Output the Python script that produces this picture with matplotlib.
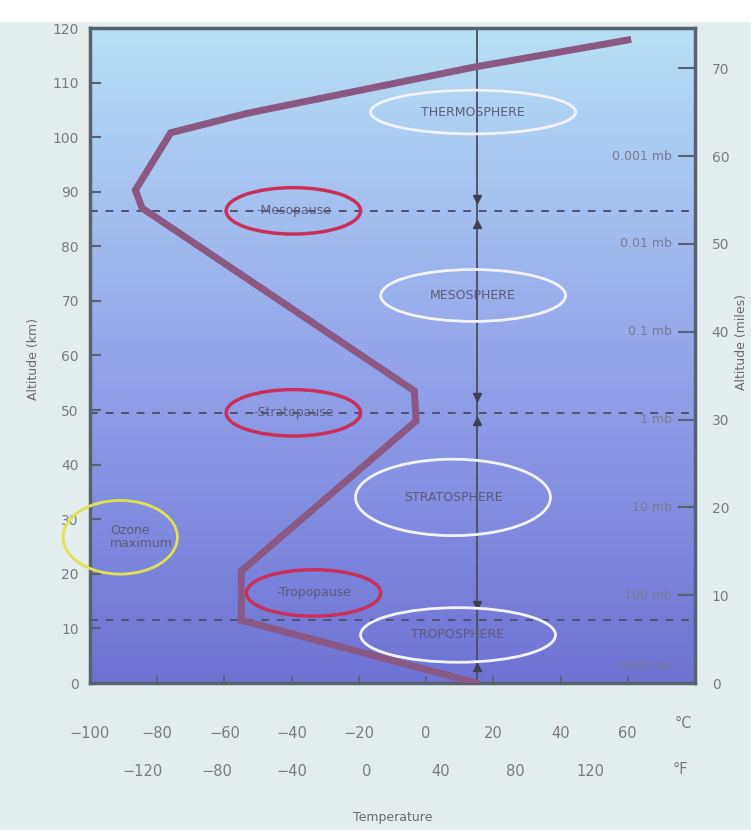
import numpy as np
import matplotlib
matplotlib.use("Agg")
import matplotlib.pyplot as plt
from matplotlib.patches import Ellipse

# temperature profile of the standard atmosphere
temp_c = [15, -55, -55, -3, -3.5, -84.5, -86.5, -76, -53, 14, 60]
alt_km = [0, 11.5, 20.5, 48, 53.5, 87, 90.3, 100.8, 104.4, 112.8, 117.8]

# layer boundaries (dashed lines)
pause_alt = [11.5, 49.5, 86.5]
pause_names = ["Tropopause", "Stratopause", "Mesopause"]
pause_label_xy = [(-33.5, 16.5), (-39.5, 49.5), (-39.5, 86.5)]

layer_names = ["TROPOSPHERE", "STRATOSPHERE", "MESOSPHERE", "THERMOSPHERE"]
layer_xy = [(9.5, 8.8), (8, 34), (14, 71), (14, 104.6)]
layer_wh = [(58, 10), (58, 14), (55, 9.5), (61, 8)]

pressure_labels = ["1000 mb", "100 mb", "10 mb", "1 mb", "0.1 mb", "0.01 mb", "0.001 mb"]
pressure_km = [3, 16.1, 32.2, 48.3, 64.4, 80.5, 96.5]

celsius_ticks = [-100, -80, -60, -40, -20, 0, 20, 40, 60]
fahrenheit_ticks = [-120, -80, -40, 0, 40, 80, 120]
km_ticks = list(range(0, 121, 10))
mile_ticks = list(range(0, 71, 10))

arrow_alt = [88.6, 84.0, 52.4, 48.0, 14.3, 3.0]
arrow_dir = ["v", "^", "v", "^", "v", "^"]

KM_PER_MI = 1.609

fig = plt.figure(figsize=(7.51, 8.30), dpi=100, facecolor="#e3eded")
fig.patches.append(plt.Rectangle((0, 0.975), 1, 0.025, transform=fig.transFigure,
                                 color="white", zorder=0))
ax = fig.add_axes([90 / 751, 147 / 830, 605 / 751, 655 / 830])
ax.set_xlim(-100, 80)
ax.set_ylim(0, 120)

# blue background gradient
top = np.array([0.72, 0.88, 0.96])
mid = np.array([0.58, 0.65, 0.92])
bot = np.array([0.43, 0.45, 0.83])
t = np.linspace(0, 1, 256)[:, None]
grad = np.where(t < 0.5, top + (mid - top) * (t / 0.5), mid + (bot - mid) * ((t - 0.5) / 0.5))
ax.imshow(grad[:, None, :], extent=[-100, 80, 0, 120], aspect="auto", zorder=0)

for a in pause_alt:
    ax.axhline(a, color="#4e5270", lw=1.4, ls=(0, (4, 4)), zorder=2)

ax.axvline(15, color="#4a4c60", lw=1.3, zorder=2)
for a, m in zip(arrow_alt, arrow_dir):
    ax.plot(15, a, marker=m, ms=6, color="#3e4050", zorder=3)

ax.plot(temp_c, alt_km, color="#8a5882", lw=5, solid_joinstyle="miter", zorder=4)

txt_col = "#5c5c78"
for name, (x, y) in zip(pause_names, pause_label_xy):
    ax.add_patch(Ellipse((x, y), 40, 8.5, fill=False, ec="#c8305a", lw=2.5, zorder=5))
    ax.text(x, y, "-" + name, ha="center", va="center", fontsize=9, color=txt_col, zorder=6)

for name, (x, y), (w, h) in zip(layer_names, layer_xy, layer_wh):
    ax.add_patch(Ellipse((x, y), w, h, fill=False, ec="#f2f4ff", lw=2, zorder=5))
    ax.text(x, y, name, ha="center", va="center", fontsize=9, color=txt_col, zorder=6)

ax.add_patch(Ellipse((-91, 26.7), 34, 13.5, fill=False, ec="#e2e24e", lw=2, zorder=5,
                     clip_on=False))
ax.text(-94, 26.7, "Ozone\nmaximum", ha="left", va="center", fontsize=9, color=txt_col,
        linespacing=1.0, zorder=6)

for lab, km in zip(pressure_labels, pressure_km):
    ax.text(0.962, km, lab, transform=ax.get_yaxis_transform(), ha="right", va="center",
            fontsize=9, color="#7a7a90", zorder=6)

for s in ax.spines.values():
    s.set_color("#596070")
    s.set_linewidth(2.5)

lab_col = "#7a7a7a"
ax.set_yticks(km_ticks)
ax.tick_params(axis="y", direction="in", length=8, width=1.5, color="#596070",
               labelsize=10, labelcolor=lab_col, pad=8)
ax.set_xticks(celsius_ticks)
ax.tick_params(axis="x", direction="in", length=5, width=1.2, color="#596070",
               labelsize=10.5, labelcolor=lab_col, pad=31)

secx = ax.secondary_xaxis(-0.118, functions=(lambda c: c * 9 / 5 + 32, lambda f: (f - 32) * 5 / 9))
secx.set_xticks(fahrenheit_ticks)
secx.tick_params(length=0, labelsize=10.5, labelcolor=lab_col, pad=3)
secx.spines["bottom"].set_visible(False)

secy = ax.secondary_yaxis("right", functions=(lambda k: k / KM_PER_MI, lambda m: m * KM_PER_MI))
secy.set_yticks(mile_ticks)
secy.tick_params(direction="in", length=12, width=1.5, color="#596070",
                 labelsize=10, labelcolor=lab_col, pad=12)

ax.text(76.5, -0.062, "\u00b0C", transform=ax.get_xaxis_transform(), ha="center",
        va="center", fontsize=10.5, color=lab_col)
ax.text(75.5, -0.132, "\u00b0F", transform=ax.get_xaxis_transform(), ha="center",
        va="center", fontsize=10.5, color=lab_col)
ax.text(0.5, -0.205, "Temperature", transform=ax.transAxes, ha="center", va="center",
        fontsize=9, color="#6a6a6a")
ax.text(-0.094, 0.495, "Altitude (km)", transform=ax.transAxes, rotation=90,
        ha="center", va="center", fontsize=9, color="#6a6a6a")
ax.text(1.077, 0.52, "Altitude (miles)", transform=ax.transAxes, rotation=90,
        ha="center", va="center", fontsize=9, color="#6a6a6a")

fig.savefig("out.png", dpi=100, facecolor=fig.get_facecolor())
